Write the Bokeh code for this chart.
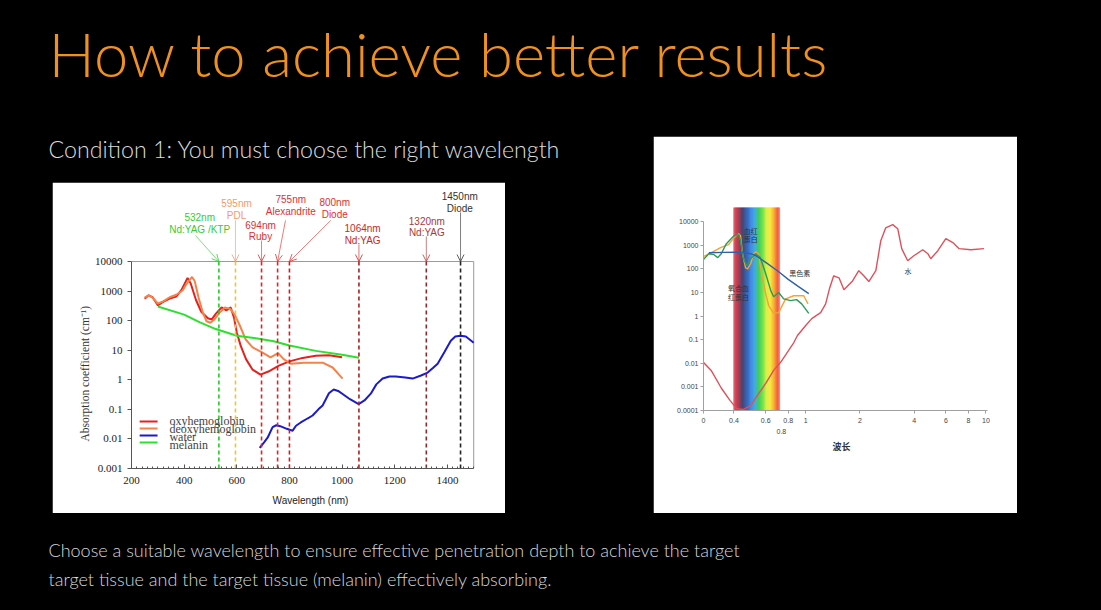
import math
from bokeh.plotting import figure
from bokeh.layouts import column, row, Spacer
from bokeh.models import (Range1d, FixedTicker, CustomJSTickFormatter, Arrow, OpenHead,
                          Title, SingleIntervalTicker)
from bokeh.core.properties import value
from bokeh.embed import file_html
from bokeh.resources import INLINE

# ---------------- texts ----------------
title_text = "How to achieve better results"
subtitle_text = "Condition 1: You must choose the right wavelength"
body_lines = ["Choose a suitable wavelength to ensure effective penetration depth to achieve the target",
              "target tissue and the target tissue (melanin) effectively absorbing."]

# ---------------- left chart data ----------------
oxy_wl = [250, 265, 280, 300, 320, 345, 370, 390, 413, 425, 445, 465, 490, 505, 520, 542, 560, 577,
          590, 600, 615, 635, 660, 690, 720, 760, 800, 850, 900, 950, 1000]
oxy_mu = [550, 720, 620, 330, 430, 560, 650, 1100, 2800, 1800, 500, 200, 120, 110, 170, 280, 220, 280,
          120, 40, 14, 5, 2.2, 1.5, 1.9, 3, 4.2, 5.5, 6.5, 6.8, 5.8]

deoxy_wl = [250, 265, 280, 300, 320, 345, 370, 394, 410, 430, 440, 455, 470, 485, 500, 515, 535, 555,
            575, 592, 611, 634, 660, 698, 728, 757, 778, 805, 855, 926, 964, 1002]
deoxy_mu = [600, 720, 600, 380, 450, 620, 750, 1050, 1800, 3000, 2200, 600, 200, 95, 85, 110, 190, 280,
            250, 160, 70, 23, 12.5, 8.3, 5.7, 8, 5, 3.5, 3.8, 3.8, 2.6, 1.1]

water_wl = [687, 705, 717, 736, 750, 765, 790, 812, 825, 843, 870, 888, 910, 926, 950, 968, 985, 1002,
            1030, 1063, 1085, 1109, 1130, 1154, 1180, 1204, 1240, 1268, 1300, 1325, 1345, 1363, 1390,
            1413, 1430, 1450, 1470, 1500]
water_mu = [0.005, 0.008, 0.011, 0.025, 0.029, 0.027, 0.022, 0.019, 0.028, 0.036, 0.05, 0.062, 0.1,
            0.135, 0.35, 0.47, 0.42, 0.33, 0.22, 0.15, 0.2, 0.34, 0.7, 1.1, 1.3, 1.3, 1.2, 1.1, 1.4,
            1.75, 2.5, 3.5, 9, 21, 29, 31, 29, 18]

melanin_wl = [300, 400, 460, 520, 600, 690, 740, 800, 900, 1000, 1064]
melanin_mu = [300, 160, 87, 52, 31, 24, 20, 14.5, 9.5, 7, 5.6]

series_names = ["oxyhemoglobin", "deoxyhemoglobin", "water", "melanin"]
series_colors = ["#e8201c", "#f4824a", "#1a1ad0", "#2ee02e"]

laser_wl = [532, 595, 694, 755, 800, 1064, 1320, 1450]
laser_top = ["532nm", "595nm", "694nm", "755nm", "800nm", "1064nm", "1320nm", "1450nm"]
laser_bottom = ["Nd:YAG /KTP", "PDL", "Ruby", "Alexandrite", "Diode", "Nd:YAG", "Nd:YAG", "Diode"]
laser_line_colors = ["#22cc22", "#f2c232", "#e82020", "#e82020", "#dd1515", "#a82020", "#8a2a2a", "#222222"]
laser_text_colors = ["#33cc33", "#f59a6a", "#e03030", "#e03030", "#e03030", "#c82828", "#a83a3a", "#333333"]

# label / arrow layout (x in nm, y as log10 exponent above the plot)
lab_x = [459, 599, 690, 805, 972, 1078, 1322, 1447]
lab_y1 = [5.49, 5.96, 5.22, 6.10, 6.00, 5.12, 5.35, 6.20]
lab_y2 = [5.08, 5.56, 4.85, 5.69, 5.59, 4.71, 4.98, 5.79]
arr_x0 = [443, 595, 694, 785, 957, 1064, 1320, 1450]
arr_y0 = [4.88, 5.39, 4.71, 5.39, 5.39, 4.58, 4.85, 5.66]

# ---------------- right chart data ----------------
hb_x = [0.27, 0.29, 0.31, 0.325, 0.34, 0.363, 0.40, 0.425, 0.435, 0.45, 0.47, 0.495, 0.527, 0.56,
        0.60, 0.64, 0.664, 0.708, 0.755, 0.825, 0.89, 0.95, 1.04]
hb_y = [245, 440, 400, 300, 440, 1170, 2550, 2800, 1550, 300, 135, 270, 440, 300,
        62, 12, 6.6, 10, 5.4, 4.5, 5, 3.3, 1.3]

oxyhb_x = [0.27, 0.30, 0.337, 0.373, 0.40, 0.425, 0.435, 0.446, 0.464, 0.476, 0.495, 0.514, 0.53,
           0.548, 0.57, 0.60, 0.623, 0.664, 0.708, 0.774, 0.858, 0.975, 1.03]
oxyhb_y = [330, 490, 790, 1060, 2100, 3100, 2550, 440, 110, 100, 165, 440, 530,
           440, 62, 8.8, 2.8, 1.3, 1.4, 5.4, 7.3, 7.3, 3.3]

mel_x = [0.29, 0.35, 0.41, 0.46, 0.495, 0.53, 0.60, 0.70, 0.80, 0.90, 1.04]
mel_y = [480, 500, 510, 490, 440, 360, 190, 81, 36, 19, 9]

wat_x = [0.268, 0.30, 0.34, 0.38, 0.414, 0.45, 0.495, 0.53, 0.60, 0.664, 0.726, 0.804, 0.858, 0.90,
         1.0, 1.08, 1.21, 1.29, 1.36, 1.43, 1.53, 1.63, 1.82, 1.97, 2.10, 2.24, 2.45, 2.61, 2.78,
         3.04, 3.24, 3.41, 3.68, 3.98, 4.46, 4.76, 4.94, 5.41, 5.99, 6.55, 7.1, 8.25, 9.75]
wat_y = [0.0118, 0.0048, 0.0009, 0.00027, 0.00012, 0.00011, 0.00016, 0.00036, 0.0014, 0.005, 0.011,
         0.035, 0.074, 0.15, 0.4, 0.78, 1.4, 3.3, 16, 51, 42, 13, 31, 84, 51, 29, 84, 1560, 5500,
         7500, 5050, 720, 220, 360, 650, 440, 270, 590, 1900, 1300, 720, 650, 720]

visible_band = [0.398, 0.717]
r_xticks = [0.271, 0.4, 0.6, 0.8, 1, 2, 4, 6, 8, 10]
r_yticks = [1e-4, 1e-3, 1e-2, 1e-1, 1, 10, 100, 1000, 10000]
l_yticks = [1e-3, 1e-2, 1e-1, 1, 10, 100, 1000, 10000]

# ---------------- helpers ----------------
SANS_LIGHT = "Lato Light"


def blank(w, h):
    p = figure(width=w, height=h, x_range=Range1d(0, w), y_range=Range1d(h, 0),
               output_backend="svg", toolbar_location=None, tools="", min_border=0,
               x_axis_location=None, y_axis_location=None,
               background_fill_color="black", border_fill_color="black",
               outline_line_color="black")
    p.grid.visible = False
    return p


log_fmt = CustomJSTickFormatter(code="""
const e = Math.round(Math.log10(tick));
return e >= 0 ? String(Math.round(tick)) : tick.toFixed(-e);
""")

# ---------------- top: title ----------------
top = blank(1085, 128)
top.text(x=[40], y=[44], text=[title_text], text_font=value(SANS_LIGHT), text_font_size="61.5px",
         text_color="#F0901E", text_baseline="alphabetic")

sub = blank(645, 46)
sub.text(x=[40], y=[12], text=[subtitle_text], text_font=value(SANS_LIGHT), text_font_size="23.2px",
         text_color="#dcdcdc", text_baseline="alphabetic")

bot = blank(1085, 89)
bot.text(x=[40, 40], y=[36, 65], text=body_lines, text_font=value(SANS_LIGHT), text_font_size="18px",
         text_color="#d8d8d8", text_baseline="alphabetic")

# ---------------- left chart ----------------
ytop = 10 ** 6.537
lp = figure(width=453, height=331, y_axis_type="log", x_range=Range1d(200, 1560),
            y_range=Range1d(1e-3, ytop), output_backend="svg", toolbar_location=None, tools="",
            min_border_left=79, min_border_right=16, min_border_top=4, min_border_bottom=45,
            background_fill_color="white", border_fill_color="white",
            outline_line_color="white", outline_line_width=2)
lp.grid.visible = False

lp.quad(left=[200], right=[1500], bottom=[1e-3], top=[1e4], fill_color=None, line_color="#9a9a9a",
        line_width=1)

for wl, mu, c in [(oxy_wl, oxy_mu, series_colors[0]), (deoxy_wl, deoxy_mu, series_colors[1]),
                  (water_wl, water_mu, series_colors[2]), (melanin_wl, melanin_mu, series_colors[3])]:
    lp.line(wl, mu, line_color=c, line_width=2)

n = len(laser_wl)
lp.segment(x0=laser_wl, y0=[1e-3] * n, x1=laser_wl, y1=[1e4] * n, line_color=laser_line_colors,
           line_width=1.6, line_dash="4 3")

lp.text(x=lab_x, y=[10 ** v for v in lab_y1], text=laser_top, text_color=laser_text_colors,
        text_align="center", text_baseline="middle", text_font=value("Liberation Sans"),
        text_font_size="10px")
lp.text(x=lab_x, y=[10 ** v for v in lab_y2], text=laser_bottom, text_color=laser_text_colors,
        text_align="center", text_baseline="middle", text_font=value("Liberation Sans"),
        text_font_size="10px")
for i in range(n):
    lp.add_layout(Arrow(x_start=arr_x0[i], y_start=10 ** arr_y0[i], x_end=laser_wl[i], y_end=1e4,
                        line_color=laser_text_colors[i], line_width=0.8, line_alpha=0.8,
                        end=OpenHead(size=7, line_color=laser_text_colors[i], line_width=0.8)))

# manual legend
leg_y_line = [-1.41, -1.647, -1.884, -2.12]
leg_y_text = [-1.41, -1.68, -1.92, -2.19]
lp.segment(x0=[231] * 4, x1=[299] * 4, y0=[10 ** v for v in leg_y_line], y1=[10 ** v for v in leg_y_line],
           line_color=series_colors, line_width=2.2)
lp.text(x=[344] * 4, y=[10 ** v for v in leg_y_text], text=series_names, text_color="#444444",
        text_baseline="middle", text_font=value("Liberation Serif"), text_font_size="12px")

ax = lp.xaxis[0]
ax.ticker = SingleIntervalTicker(interval=200, num_minor_ticks=10)
ax.bounds = (200, 1500)
ax.axis_label = "Wavelength (nm)"
ax.axis_label_text_font = "Liberation Sans"
ax.axis_label_text_font_style = "normal"
ax.axis_label_text_font_size = "10px"
ax.axis_label_text_color = "#222222"
ax.axis_label_standoff = 8
ax.major_label_text_font = "Liberation Serif"
ax.major_label_text_font_size = "11px"
ax.major_label_text_color = "#222222"
ax.major_label_standoff = 8
ax.major_tick_in = 4
ax.major_tick_out = 0
ax.minor_tick_in = 2
ax.minor_tick_out = 0
ax.axis_line_color = "#555555"
ax.major_tick_line_color = "#555555"
ax.minor_tick_line_color = "#555555"

ay = lp.yaxis[0]
ay.ticker = FixedTicker(ticks=l_yticks)
ay.formatter = log_fmt
ay.bounds = (1e-3, 1e4)
ay.major_label_text_font = "Liberation Serif"
ay.major_label_text_font_size = "11px"
ay.major_label_text_color = "#222222"
ay.major_label_standoff = 5
ay.major_tick_in = 0
ay.major_tick_out = 4
ay.axis_line_color = "#555555"
ay.major_tick_line_color = "#555555"

lp.add_layout(Title(text="Absorption coefficient (cm⁻¹)", align="left", offset=27,
                    vertical_align="bottom", standoff=2, text_font="Liberation Serif",
                    text_font_style="normal", text_font_size="11.5px", text_color="#333333"), "left")

# ---------------- right chart ----------------
rp = figure(width=364, height=377, x_axis_type="log", y_axis_type="log",
            x_range=Range1d(0.271, 10.6), y_range=Range1d(1e-4, 10 ** 4.898),
            output_backend="svg", toolbar_location=None, tools="",
            min_border_left=50, min_border_right=27, min_border_top=64, min_border_bottom=103,
            background_fill_color="white", border_fill_color="white",
            outline_line_color="white", outline_line_width=2)
rp.grid.visible = False

stops = [(0.00, "#e8707c"), (0.04, "#d83a4c"), (0.12, "#a03048"), (0.20, "#3c3c6c"), (0.28, "#3660b0"),
         (0.38, "#3a86e6"), (0.47, "#38a8e0"), (0.55, "#34cc50"), (0.64, "#6ee040"), (0.72, "#d8f040"),
         (0.80, "#f8e840"), (0.88, "#f8b030"), (0.95, "#f46030"), (0.985, "#f04848"), (1.00, "#f8c8c8")]


def hex2rgb(h):
    return tuple(int(h[i:i + 2], 16) for i in (1, 3, 5))


def grad(f):
    for (f0, c0), (f1, c1) in zip(stops[:-1], stops[1:]):
        if f0 <= f <= f1:
            t = (f - f0) / (f1 - f0) if f1 > f0 else 0
            a, b = hex2rgb(c0), hex2rgb(c1)
            return "#%02x%02x%02x" % tuple(int(round(a[k] + (b[k] - a[k]) * t)) for k in range(3))
    return stops[-1][1]


NB = 48
l0, l1 = math.log10(visible_band[0]), math.log10(visible_band[1])
edges = [10 ** (l0 + (l1 - l0) * i / NB) for i in range(NB + 1)]
band_cols = [grad((i + 0.5) / NB) for i in range(NB)]
rp.quad(left=edges[:-1], right=edges[1:], bottom=[1e-4] * NB, top=[10 ** 4.59] * NB,
        fill_color=band_cols, line_color=band_cols, line_width=0.5)

rp.line(wat_x, wat_y, line_color="#e0505a", line_width=1.4)
rp.line(oxyhb_x, oxyhb_y, line_color="#f2a33a", line_width=1.4)
rp.line(hb_x, hb_y, line_color="#2c9a58", line_width=1.4)
rp.line(mel_x, mel_y, line_color="#3060a8", line_width=1.4)

cjk = value("Noto Sans CJK SC")
rp.text(x=[0.495, 0.495, 0.926, 0.424, 0.424, 3.69],
        y=[10 ** 3.62, 10 ** 3.28, 10 ** 1.84, 10 ** 1.20, 10 ** 0.82, 10 ** 1.92],
        text=["血红", "蛋白", "黑色素", "氧合血", "红蛋白", "水"], text_font=cjk, text_font_size="7px",
        text_color="#333333", text_align="center", text_baseline="middle")

rx = rp.xaxis[0]
rx.ticker = FixedTicker(ticks=r_xticks, minor_ticks=[])
rx.formatter = CustomJSTickFormatter(code="if (tick < 0.3) {return '0';} return String(Math.round(tick*10)/10);")
rx.bounds = (0.271, 10.2)
rx.major_label_text_font = "Liberation Sans"
rx.major_label_text_font_size = "7px"
rx.major_label_text_color = "#444444"
rx.major_label_standoff = 4
rx.major_tick_in = 0
rx.major_tick_out = 3
rx.axis_line_color = "#a0a0a0"
rx.major_tick_line_color = "#a0a0a0"

rp.add_layout(Title(text="0.8", align="left", offset=73, vertical_align="top", standoff=7,
                    text_font="Liberation Sans", text_font_style="normal", text_font_size="7px",
                    text_color="#444444"), "below")
rp.add_layout(Title(text="波长", align="left", offset=129, vertical_align="top", standoff=0,
                    text_font="Noto Sans CJK SC", text_font_style="bold", text_font_size="9px",
                    text_color="#333333"), "below")

ry = rp.yaxis[0]
ry.ticker = FixedTicker(ticks=r_yticks, minor_ticks=[])
ry.formatter = log_fmt
ry.bounds = (1e-4, 1e4)
ry.major_label_text_font = "Liberation Sans"
ry.major_label_text_font_size = "7px"
ry.major_label_text_color = "#444444"
ry.major_label_standoff = 2
ry.major_tick_in = 0
ry.major_tick_out = 3
ry.axis_line_color = "#a0a0a0"
ry.major_tick_line_color = "#a0a0a0"

# ---------------- layout ----------------
left_col = column(sub, row(Spacer(width=44, height=331), lp, Spacer(width=148, height=331)))
mid = row(left_col, rp, Spacer(width=76, height=377))
page = column(top, mid, bot)

html = file_html(page, INLINE, title="How to achieve better results")
html = html.replace("</head>", "<style>html,body{background:#000000;margin:0;}body{margin:8px;overflow:hidden;}</style></head>", 1)
open("out.html", "w").write(html)
